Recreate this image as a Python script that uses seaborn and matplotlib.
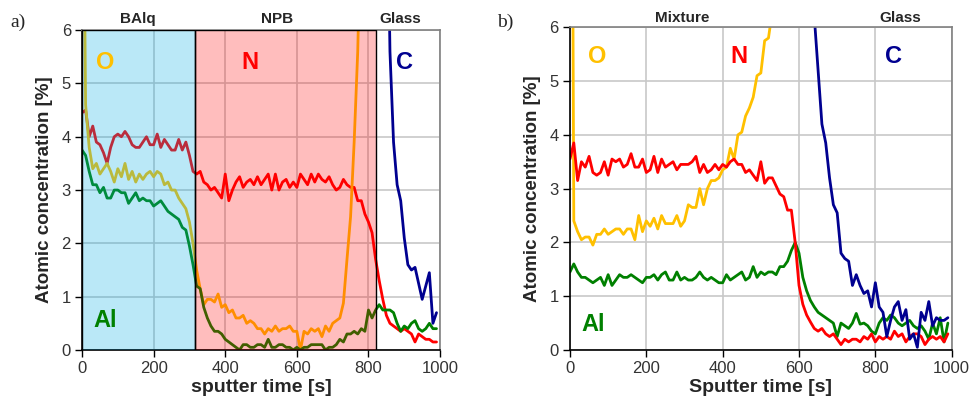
import numpy as np
import matplotlib
matplotlib.use("Agg")
import matplotlib.pyplot as plt
import seaborn as sns

# sputter time axis (10 s steps)
time = np.arange(0, 1000, 10)
nan = np.nan

# panel a) BAlq / NPB / glass
N_a = [4.45, 4.5, 4.0, 4.2, 3.9, 3.85, 3.7, 3.5, 3.8, 4.0,
       4.05, 4.0, 4.1, 4.0, 3.85, 3.8, 3.8, 3.9, 4.0, 3.85,
       3.85, 4.05, 3.8, 3.95, 3.85, 3.75, 3.75, 3.95, 3.75, 3.9,
       3.65, 3.35, 3.3, 3.35, 3.15, 3.1, 3.0, 3.05, 2.95, 2.85,
       3.3, 2.8, 3.0, 3.15, 3.25, 3.05, 3.15, 3.2, 3.1, 3.25,
       3.1, 3.2, 3.3, 3.0, 3.3, 3.0, 3.15, 3.2, 3.05, 3.15,
       3.05, 3.3, 3.2, 3.1, 3.3, 3.15, 3.3, 3.2, 3.15, 3.25,
       3.1, 3.0, 3.05, 3.2, 3.1, 3.05, 3.05, 2.8, 2.8, 2.55,
       2.4, 2.2, 1.7, 1.3, 0.95, 0.65, 0.5, 0.45, 0.4, 0.35,
       0.4, 0.35, 0.3, 0.15, 0.3, 0.25, 0.2, 0.2, 0.15, 0.15]
O_a = [12, 4.6, 3.8, 3.4, 3.5, 3.3, 3.4, 3.5, 3.35, 3.15,
       3.4, 3.25, 3.5, 3.2, 3.35, 3.15, 3.3, 3.2, 3.3, 3.35,
       3.25, 3.35, 3.3, 3.1, 3.15, 3.0, 3.0, 2.85, 2.75, 2.65,
       2.4, 2.0, 1.5, 1.15, 0.85, 0.95, 0.95, 0.9, 1.05, 0.8,
       0.85, 0.7, 0.75, 0.6, 0.6, 0.65, 0.5, 0.55, 0.5, 0.4,
       0.4, 0.3, 0.4, 0.35, 0.45, 0.35, 0.4, 0.4, 0.45, 0.35,
       0.35, 0.0, 0.35, 0.3, 0.4, 0.35, 0.4, 0.25, 0.45, 0.35,
       0.5, 0.55, 0.6, 0.88, 1.7, 2.5, 3.9, 5.6, 8.5, 12,
       nan, nan, nan, nan, nan, nan, nan, nan, nan, nan,
       nan, nan, nan, nan, nan, nan, nan, nan, nan, nan]
Al_a = [3.75, 3.65, 3.35, 3.1, 3.1, 2.95, 3.05, 2.85, 2.85, 3.0,
        3.0, 2.95, 2.95, 2.75, 2.85, 2.95, 2.8, 2.85, 2.8, 2.8,
        2.7, 2.75, 2.8, 2.7, 2.6, 2.55, 2.5, 2.45, 2.3, 2.25,
        1.95, 1.6, 1.2, 1.15, 0.8, 0.6, 0.45, 0.35, 0.35, 0.3,
        0.2, 0.15, 0.1, 0.05, 0.0, 0.1, 0.1, 0.05, 0.05, 0.1,
        0.1, 0.05, 0.2, 0.05, 0.05, 0.1, 0.1, 0.05, 0.05, 0.0,
        0.05, 0.0, 0.05, 0.05, 0.1, 0.1, 0.1, 0.1, 0.0, 0.05,
        0.05, 0.1, 0.2, 0.15, 0.3, 0.3, 0.35, 0.3, 0.4, 0.35,
        0.75, 0.6, 0.75, 0.85, 0.75, 0.75, 0.75, 0.7, 0.5, 0.35,
        0.45, 0.4, 0.5, 0.55, 0.4, 0.35, 0.4, 0.5, 0.4, 0.4]
C_a = [nan] * 85 + [10, 5.6, 3.9, 3.1, 2.8, 2.1, 1.6, 1.5, 1.55, 1.25,
                    0.95, 1.2, 1.45, 0.5, 0.7]

# panel b) mixture / glass
N_b = [3.55, 3.85, 3.15, 3.5, 3.4, 3.6, 3.3, 3.25, 3.3, 3.5,
       3.25, 3.55, 3.5, 3.55, 3.4, 3.45, 3.65, 3.4, 3.4, 3.55,
       3.3, 3.35, 3.6, 3.3, 3.55, 3.4, 3.45, 3.5, 3.35, 3.45,
       3.45, 3.45, 3.5, 3.6, 3.3, 3.45, 3.3, 3.35, 3.45, 3.35,
       3.45, 3.4, 3.5, 3.55, 3.45, 3.45, 3.3, 3.35, 3.25, 3.15,
       3.5, 3.1, 3.2, 3.2, 3.05, 2.9, 2.85, 2.6, 2.6, 2.0,
       1.2, 0.85, 0.65, 0.52, 0.4, 0.35, 0.4, 0.3, 0.25, 0.3,
       0.2, 0.1, 0.2, 0.15, 0.2, 0.2, 0.15, 0.25, 0.2, 0.3,
       0.15, 0.25, 0.2, 0.25, 0.2, 0.35, 0.25, 0.3, 0.15, 0.25,
       0.3, 0.3, 0.25, 0.1, 0.2, 0.25, 0.2, 0.25, 0.15, 0.3]
O_b = [20, 2.4, 2.2, 2.05, 2.1, 2.1, 1.95, 2.15, 2.15, 2.25,
       2.15, 2.2, 2.25, 2.25, 2.15, 2.25, 2.25, 2.05, 2.5, 2.2,
       2.4, 2.3, 2.45, 2.25, 2.5, 2.35, 2.35, 2.35, 2.5, 2.3,
       2.4, 2.7, 2.65, 2.65, 3.0, 2.7, 3.0, 3.15, 3.15, 3.2,
       3.35, 3.4, 3.75, 3.55, 4.0, 4.05, 4.35, 4.5, 4.7, 5.1,
       5.15, 5.75, 5.8, 6.3, 7.5] + [nan] * 45
Al_b = [1.45, 1.6, 1.45, 1.35, 1.35, 1.3, 1.25, 1.3, 1.35, 1.2,
        1.4, 1.2, 1.3, 1.4, 1.35, 1.35, 1.4, 1.35, 1.3, 1.25,
        1.35, 1.35, 1.4, 1.3, 1.4, 1.45, 1.3, 1.3, 1.45, 1.3,
        1.35, 1.3, 1.3, 1.35, 1.45, 1.35, 1.3, 1.35, 1.3, 1.25,
        1.25, 1.4, 1.3, 1.35, 1.4, 1.45, 1.3, 1.35, 1.55, 1.35,
        1.45, 1.4, 1.45, 1.45, 1.4, 1.55, 1.55, 1.65, 1.85, 2.0,
        1.8, 1.35, 1.1, 0.92, 0.8, 0.7, 0.65, 0.6, 0.55, 0.5,
        0.25, 0.5, 0.45, 0.4, 0.5, 0.68, 0.48, 0.5, 0.45, 0.35,
        0.3, 0.5, 0.6, 0.55, 0.65, 0.6, 0.5, 0.45, 0.5, 0.55,
        0.45, 0.4, 0.45, 0.35, 0.2, 0.5, 0.3, 0.6, 0.15, 0.5]
C_b = [nan] * 63 + [8, 6.2, 5.2, 4.2, 3.85, 3.2, 2.7, 2.55, 1.8, 1.7,
                    1.65, 1.2, 1.4, 1.2, 1.05, 1.1, 0.8, 1.25, 0.8, 0.7,
                    0.25, 0.55, 0.8, 0.9, 0.55, 0.75, 0.2, 0.3, 0.05, 0.7,
                    0.55, 0.9, 0.45, 0.6, 0.55, 0.55, 0.6]

gold = "#FFC000"
red = "#FF0000"
green = "#008000"
navy = "#000090"

sns.set_style("whitegrid")
plt.rcParams["font.family"] = ["Liberation Sans", "DejaVu Sans"]

fig = plt.figure(figsize=(9.73, 4.09), dpi=100)
ax1 = fig.add_axes([0.0843, 0.1443, 0.368, 0.782])
ax2 = fig.add_axes([0.5858, 0.1443, 0.3923, 0.789])


def style_axis(ax, xlabel):
    ax.set_xlim(0, 1000)
    ax.set_ylim(0, 6)
    ax.set_xticks([0, 200, 400, 600, 800, 1000])
    ax.set_yticks([0, 1, 2, 3, 4, 5, 6])
    ax.grid(True, color="#c8c8c8", lw=1.2)
    ax.tick_params(labelsize=12, labelcolor="#333333", bottom=True, left=True,
                   length=5, width=1, color="black", direction="out", pad=3)
    ax.set_xlabel(xlabel, fontsize=14, fontweight="bold", labelpad=2)
    ax.set_ylabel("Atomic concentration [%]", fontsize=13.5, fontweight="bold", labelpad=6)
    for side in ["left", "bottom"]:
        ax.spines[side].set_color("black")
        ax.spines[side].set_linewidth(1.2)
    for side in ["top", "right"]:
        ax.spines[side].set_color("#808080")
        ax.spines[side].set_linewidth(1.2)


# panel a
for vals, col in [(N_a, red), (O_a, gold), (Al_a, green), (C_a, navy)]:
    sns.lineplot(x=time, y=vals, ax=ax1, color=col, lw=2.0)
ax1.axvspan(0, 315, facecolor=(0.0, 0.667, 0.886, 0.27), edgecolor="black", lw=1.0, zorder=3)
ax1.axvspan(315, 820, facecolor=(1.0, 0.0, 0.0, 0.26), edgecolor="black", lw=1.0, zorder=3)
style_axis(ax1, "sputter time [s]")

trans1 = ax1.get_xaxis_transform()
for x, lab in [(156, "BAlq"), (545, "NPB"), (888, "Glass")]:
    ax1.text(x, 1.034, lab, transform=trans1, ha="center", va="center",
             fontsize=11, fontweight="bold")
for x, y, lab, col in [(64, 5.4, "O", gold), (469, 5.4, "N", red),
                       (900, 5.4, "C", navy), (64, 0.56, "Al", green)]:
    ax1.text(x, y, lab, color=col, fontsize=17, fontweight="bold",
             ha="center", va="center", zorder=5)

# panel b
for vals, col in [(O_b, gold), (Al_b, green), (N_b, red), (C_b, navy)]:
    sns.lineplot(x=time, y=vals, ax=ax2, color=col, lw=2.0)
style_axis(ax2, "Sputter time [s]")

trans2 = ax2.get_xaxis_transform()
for x, lab in [(293, "Mixture"), (865, "Glass")]:
    ax2.text(x, 1.029, lab, transform=trans2, ha="center", va="center",
             fontsize=11, fontweight="bold")
for x, y, lab, col in [(71, 5.45, "O", gold), (443, 5.45, "N", red),
                       (848, 5.45, "C", navy), (60, 0.47, "Al", green)]:
    ax2.text(x, y, lab, color=col, fontsize=17, fontweight="bold",
             ha="center", va="center", zorder=5)

fig.text(10 / 973, 1 - 22 / 409, "a)", family=["Liberation Serif"], fontsize=14,
         ha="left", va="center")
fig.text(497 / 973, 1 - 22 / 409, "b)", family=["Liberation Serif"], fontsize=14,
         ha="left", va="center")

fig.savefig("out.png", dpi=100)
